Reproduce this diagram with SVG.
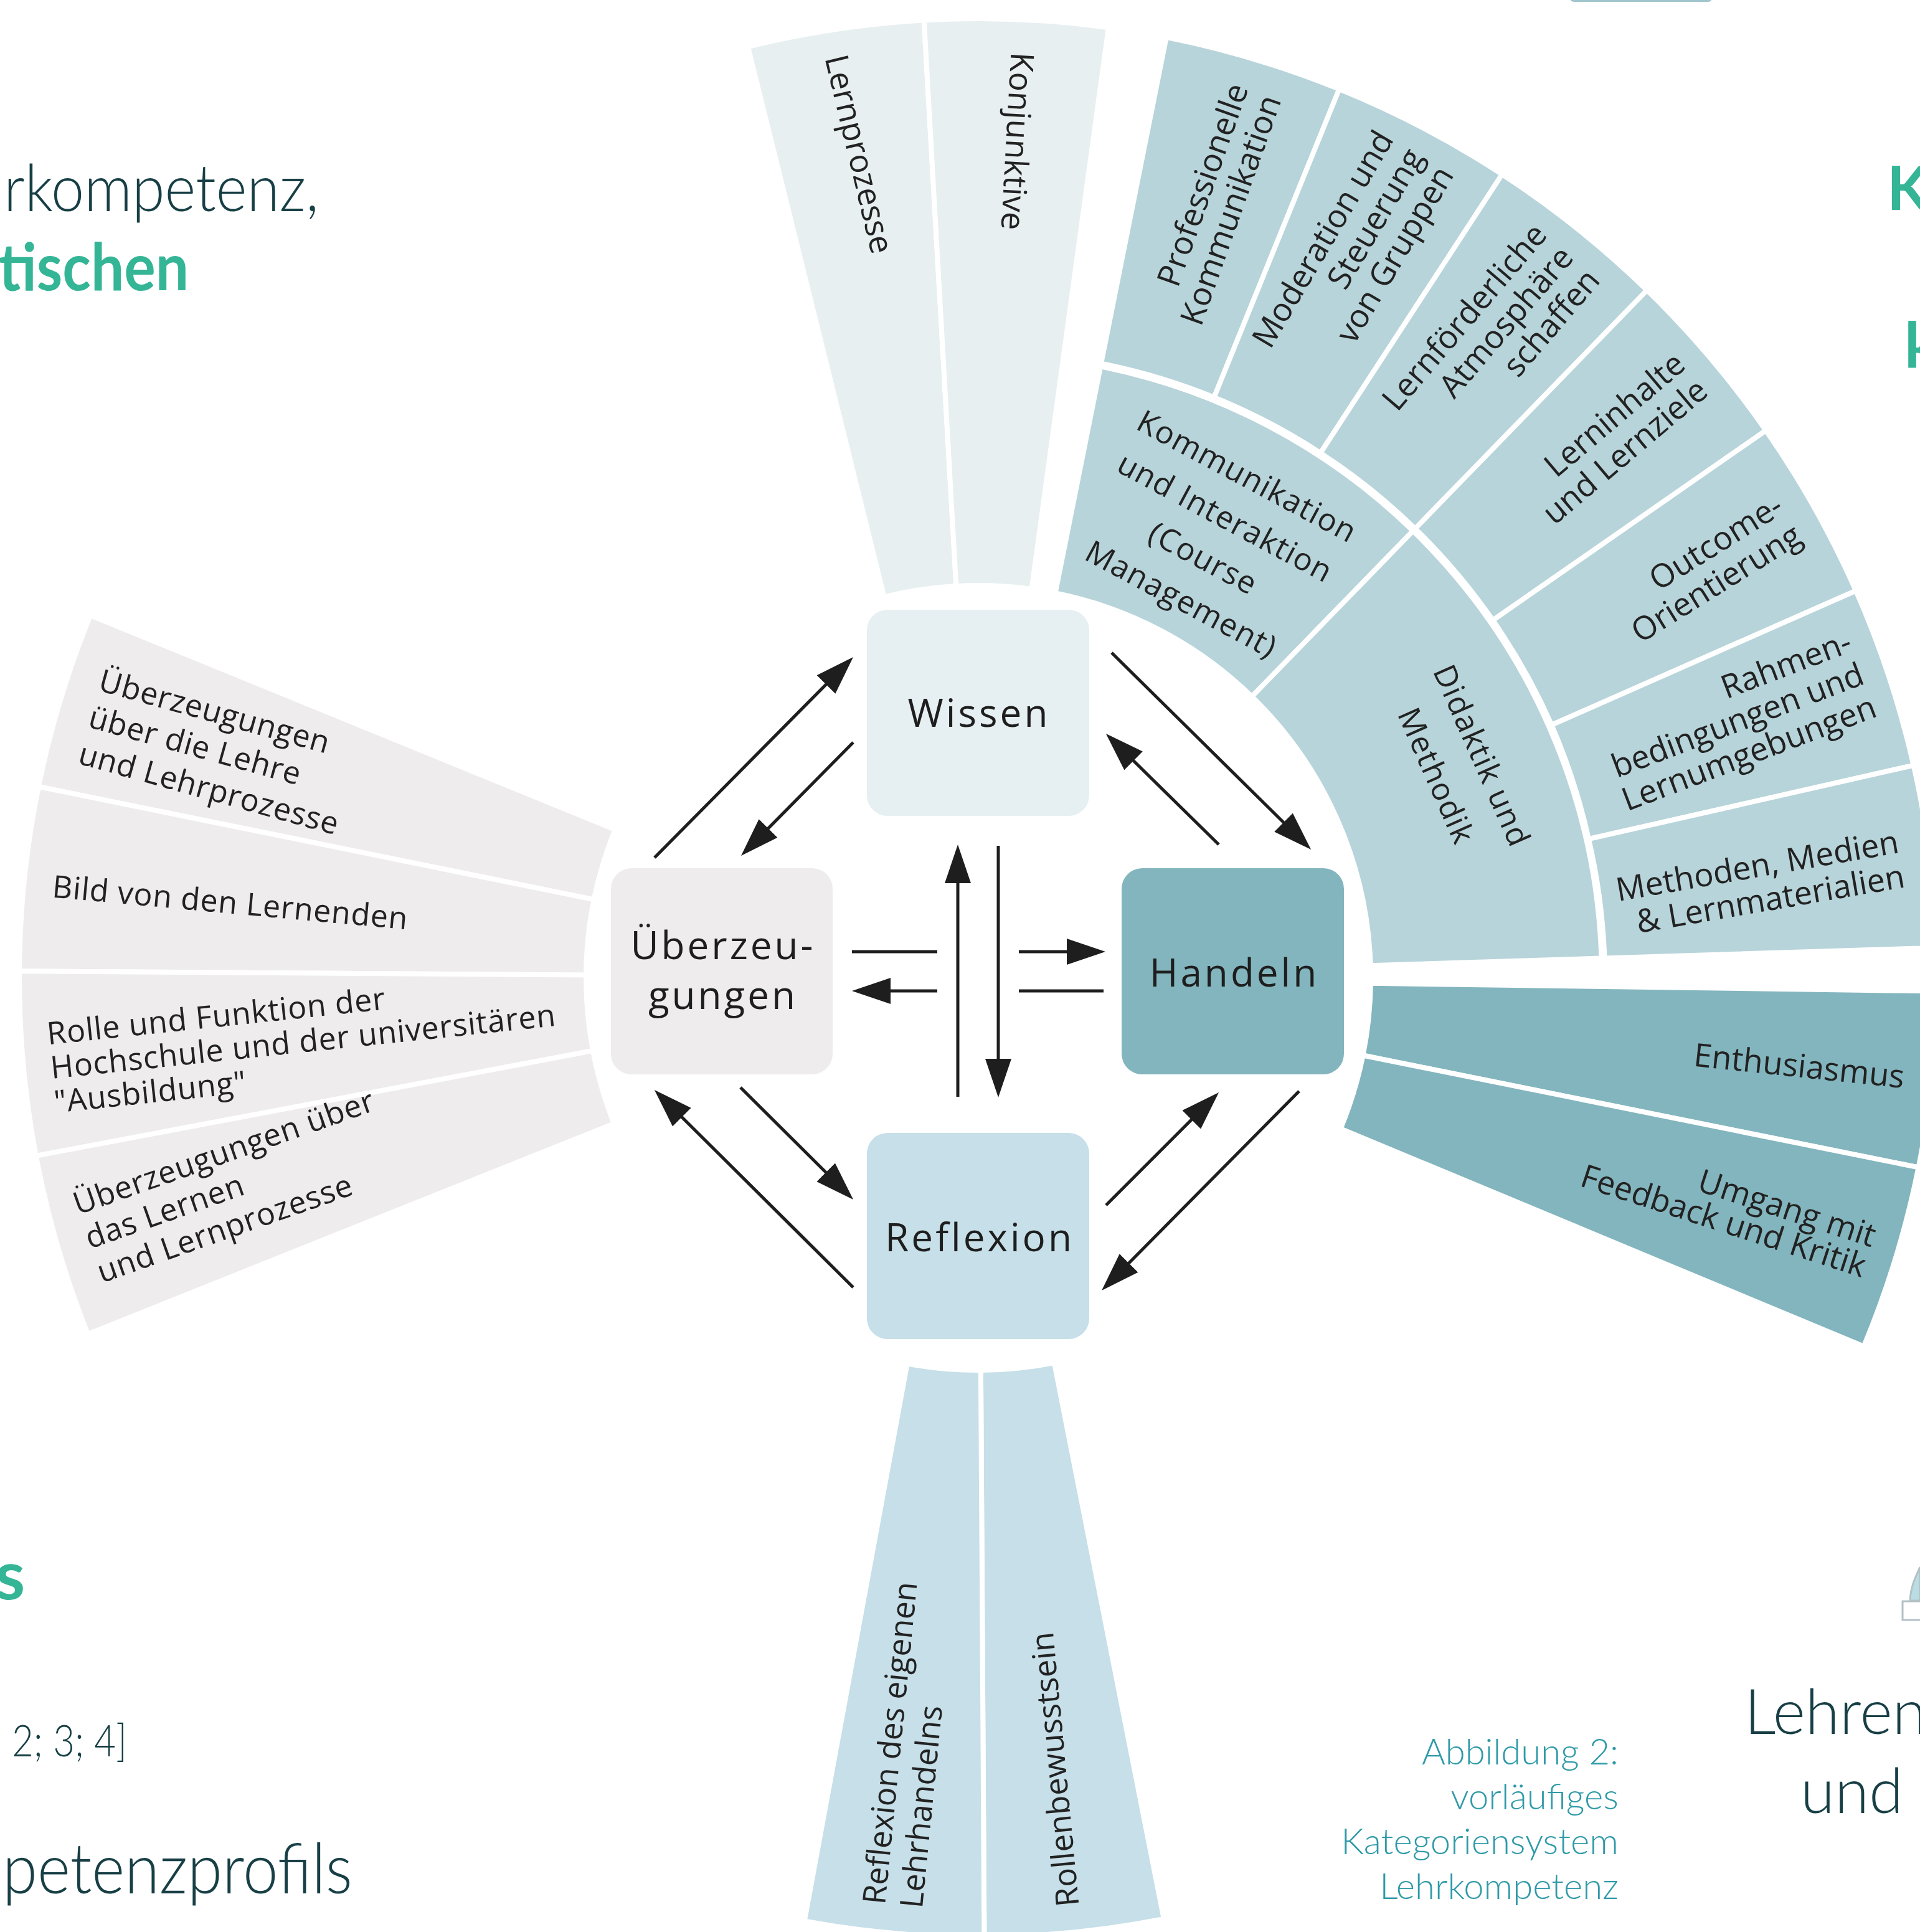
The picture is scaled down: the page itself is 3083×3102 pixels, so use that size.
<svg xmlns="http://www.w3.org/2000/svg" width="3083" height="3102" viewBox="0 0 3083 3102">
<defs>
<style>
.seg{stroke:#ffffff;stroke-width:8;stroke-linejoin:miter}
.cw{fill:#e7eff1}.cu{fill:#eeeced}.ch1{fill:#b7d4da}.ch2{fill:#83b5be}.cr{fill:#c6dfe8}
.lbl{font-family:"Open Sans","Noto Sans","DejaVu Sans",sans-serif;font-size:52px;fill:#222222}
.lft{font-size:50px;letter-spacing:0.8px}
.inn{font-size:50px;letter-spacing:1.5px}
.bl{font-size:51px}
.box{font-family:"Open Sans","Noto Sans","DejaVu Sans",sans-serif;font-size:62px;letter-spacing:4px;fill:#1e1e1e;text-anchor:middle}
.bg{font-family:Lato,"Open Sans",sans-serif;font-weight:300;fill:#173f45}
.bgb{font-family:Lato,"Open Sans",sans-serif;font-weight:700;fill:#34b596}
.cap{font-family:Lato,"Open Sans",sans-serif;font-weight:300;fill:#2f9aa8;font-size:58px;text-anchor:end}
.arr{stroke:#1e1e1e;stroke-width:5;fill:none}
.arrh{stroke:#1e1e1e;stroke-width:5;fill:none;marker-end:url(#ah)}
</style>
<marker id="ah" markerUnits="userSpaceOnUse" markerWidth="62" markerHeight="42" refX="52" refY="21" orient="auto">
<path d="M0,0 L62,21 L0,42 Z" fill="#1e1e1e"/>
</marker>
</defs>
<rect width="3083" height="3102" fill="#ffffff"/>

<!-- background page fragments -->
<g id="background">
<text class="bg" x="6" y="339" font-size="105" textLength="506" lengthAdjust="spacingAndGlyphs">rkompetenz,</text>
<text class="bgb" x="-2" y="466" font-size="105" textLength="305" lengthAdjust="spacingAndGlyphs">tischen</text>
<text class="bgb" x="3030" y="337" font-size="98">K</text>
<text class="bgb" x="3058" y="590" font-size="102">k</text>
<rect x="2521" y="-30" width="228" height="33" rx="6" fill="#9fc6cd"/>
<text class="bgb" x="-8" y="2568" font-size="110">s</text>
<text class="bg" x="19" y="2820" font-size="70" textLength="185" lengthAdjust="spacingAndGlyphs">2; 3; 4]</text>
<text class="bg" x="4" y="3040" font-size="112" textLength="562" lengthAdjust="spacingAndGlyphs">petenzprofils</text>
<text class="bg" x="2801" y="2784" font-size="100">Lehren</text>
<text class="bg" x="2891" y="2911" font-size="100">und</text>
<path d="M3083,2516 C3078,2528 3068,2545 3067,2570 L3083,2570 Z" fill="#b9dde3" stroke="#b3c1c5" stroke-width="3"/>
<rect x="3055" y="2571" width="40" height="30" fill="#ffffff" stroke="#b3c1c5" stroke-width="3"/>
<text class="cap" x="2599" y="2833">Abbildung 2:</text>
<text class="cap" x="2599" y="2905">vorläufiges</text>
<text class="cap" x="2599" y="2977">Kategoriensystem</text>
<text class="cap" x="2599" y="3049">Lehrkompetenz</text>
</g>

<!-- Wissen sectors -->
<g id="wissen-lernprozesse">
<path class="seg cw" d="M1201.0,75.1 A1540,1540 0 0 1 1483.7,32.5 L1535.3,941.0 A630,630 0 0 0 1419.7,958.4 Z"/>
<text class="lbl" transform="translate(1362,251.6) rotate(76.6)" text-anchor="middle">Lernprozesse</text>
</g>
<g id="wissen-konjunktive">
<path class="seg cw" d="M1483.7,32.5 A1540,1540 0 0 1 1780.0,44.2 L1656.5,945.8 A630,630 0 0 0 1535.3,941.0 Z"/>
<text class="lbl" transform="translate(1615.6,225.7) rotate(93.2)" text-anchor="middle">Konjunktive</text>
</g>

<!-- Handeln outer ring -->
<g id="h-professionelle">
<path class="seg ch1" d="M1872.8,59.9 A1540,1540 0 0 1 2150.4,143.1 L1949.5,637.9 A1006,1006 0 0 0 1768.1,583.5 Z"/>
<text class="lbl" transform="translate(2005,142) rotate(-70.5)" text-anchor="end"><tspan x="0" dy="0">Professionelle</tspan><tspan x="0" dy="56">Kommunikation</tspan></text>
</g>
<g id="h-moderation">
<path class="seg ch1" d="M2150.4,143.1 A1540,1540 0 0 1 2412.0,279.9 L2120.4,727.3 A1006,1006 0 0 0 1949.5,637.9 Z"/>
<text class="lbl" transform="translate(2239.2,223.6) rotate(-59.5)" text-anchor="end"><tspan x="0" dy="0">Moderation und</tspan><tspan x="0" dy="56">Steuerung</tspan><tspan x="0" dy="56">von Gruppen</tspan></text>
</g>
<g id="h-atmosphaere">
<path class="seg ch1" d="M2412.0,279.9 A1540,1540 0 0 1 2644.6,466.0 L2272.4,848.8 A1006,1006 0 0 0 2120.4,727.3 Z"/>
<text class="lbl" transform="translate(2486.4,378.4) rotate(-49.5)" text-anchor="end"><tspan x="0" dy="0">Lernförderliche</tspan><tspan x="0" dy="56">Atmosphäre</tspan><tspan x="0" dy="56">schaffen</tspan></text>
</g>
<g id="h-lerninhalte">
<path class="seg ch1" d="M2644.6,466.0 A1540,1540 0 0 1 2835.6,691.1 L2397.1,995.9 A1006,1006 0 0 0 2272.4,848.8 Z"/>
<text class="lbl" transform="translate(2709.4,589.9) rotate(-40.3)" text-anchor="end"><tspan x="0" dy="0">Lerninhalte</tspan><tspan x="0" dy="56">und Lernziele</tspan></text>
</g>
<g id="h-outcome">
<path class="seg ch1" d="M2835.6,691.1 A1540,1540 0 0 1 2980.0,948.5 L2491.5,1164.0 A1006,1006 0 0 0 2397.1,995.9 Z"/>
<text class="lbl" transform="translate(2867,822) rotate(-32)" text-anchor="end"><tspan x="0" dy="0">Outcome-</tspan><tspan x="0" dy="56">Orientierung</tspan></text>
</g>
<g id="h-rahmen">
<path class="seg ch1" d="M2980.0,948.5 A1540,1540 0 0 1 3072.7,1228.8 L2551.0,1347.1 A1006,1006 0 0 0 2491.5,1164.0 Z"/>
<text class="lbl" transform="translate(2976.7,1044.8) rotate(-20.8)" text-anchor="end"><tspan x="0" dy="0">Rahmen-</tspan><tspan x="0" dy="56">bedingungen und</tspan><tspan x="0" dy="56">Lernumgebungen</tspan></text>
</g>
<g id="h-methoden">
<path class="seg ch1" d="M3072.7,1228.8 A1540,1540 0 0 1 3110.2,1521.6 L2576.5,1538.4 A1006,1006 0 0 0 2551.0,1347.1 Z"/>
<text class="lbl" transform="translate(3051.2,1368.8) rotate(-9.8)" text-anchor="end"><tspan x="0" dy="0">Methoden, Medien</tspan><tspan x="0" dy="56">&amp; Lernmaterialien</tspan></text>
</g>

<!-- Handeln inner ring -->
<g id="h-kommunikation">
<path class="seg ch1" d="M1767.2,588.4 A1001,1001 0 0 1 2268.9,852.4 L2010.2,1118.4 A630,630 0 0 0 1694.5,952.2 Z"/>
<text class="lbl inn" transform="translate(1994.4,780.4) rotate(28.2)" text-anchor="middle"><tspan x="0" dy="0">Kommunikation</tspan><tspan x="0" dy="74.5">und Interaktion</tspan><tspan x="0" dy="74.5">(Course</tspan><tspan x="0" dy="74.5">Management)</tspan></text>
</g>
<g id="h-didaktik">
<path class="seg ch1" d="M2268.9,852.4 A1001,1001 0 0 1 2571.5,1538.6 L2200.7,1550.2 A630,630 0 0 0 2010.2,1118.4 Z"/>
<text class="lbl inn" transform="translate(2363.4,1220.5) rotate(66.2)" text-anchor="middle"><tspan x="0" dy="0">Didaktik und</tspan><tspan x="0" dy="80">Methodik</tspan></text>
</g>

<!-- Handeln lower sectors -->
<g id="h-enthusiasmus">
<path class="seg ch2" d="M3110.9,1591.5 A1540,1540 0 0 1 3080.6,1874.4 L2188.6,1694.5 A630,630 0 0 0 2200.9,1578.8 Z"/>
<text class="lbl" transform="translate(3056,1747) rotate(6)" text-anchor="end">Enthusiasmus</text>
</g>
<g id="h-feedback">
<path class="seg ch2" d="M3080.6,1874.4 A1540,1540 0 0 1 2992.7,2161.8 L2152.6,1812.1 A630,630 0 0 0 2188.6,1694.5 Z"/>
<text class="lbl" transform="translate(3005,2002.6) rotate(18)" text-anchor="end"><tspan x="0" dy="0">Umgang mit</tspan><tspan x="0" dy="51">Feedback und Kritik</tspan></text>
</g>

<!-- Reflexion sectors -->
<g id="r-rollen">
<path class="seg cr" d="M1868.8,3080.9 A1540,1540 0 0 1 1580.4,3110.0 L1574.9,2200.0 A630,630 0 0 0 1692.8,2188.1 Z"/>
<text class="lbl bl" transform="translate(1732.4,3059.6) rotate(-95.4)" text-anchor="start">Rollenbewusstsein</text>
</g>
<g id="r-reflexion">
<path class="seg cr" d="M1580.4,3110.0 A1540,1540 0 0 1 1291.7,3084.5 L1456.7,2189.6 A630,630 0 0 0 1574.9,2200.0 Z"/>
<text class="lbl bl" transform="translate(1421,3059) rotate(-84.3)" text-anchor="start"><tspan x="0" dy="0">Reflexion des eigenen</tspan><tspan x="0" dy="60">Lehrhandelns</tspan></text>
</g>

<!-- Ueberzeugungen sectors -->
<g id="u-lehre">
<path class="seg cu" d="M61.9,1263.0 A1540,1540 0 0 1 145.2,988.1 L987.7,1332.0 A630,630 0 0 0 953.6,1444.4 Z"/>
<text class="lbl lft" transform="translate(155.8,1107.9) rotate(15.5)"><tspan x="0" dy="0">Überzeugungen</tspan><tspan x="0" dy="61">über die Lehre</tspan><tspan x="0" dy="61">und Lehrprozesse</tspan></text>
</g>
<g id="u-bild">
<path class="seg cu" d="M31.0,1559.3 A1540,1540 0 0 1 61.9,1263.0 L953.6,1444.4 A630,630 0 0 0 941.0,1565.6 Z"/>
<text class="lbl lft" transform="translate(82.8,1440.4) rotate(5.2)">Bild von den Lernenden</text>
</g>
<g id="u-rolle">
<path class="seg cu" d="M57.8,1855.9 A1540,1540 0 0 1 31.0,1559.3 L941.0,1565.6 A630,630 0 0 0 952.0,1687.0 Z"/>
<text class="lbl lft" transform="translate(77.2,1677.3) rotate(-6)"><tspan x="0" dy="0">Rolle und Funktion der</tspan><tspan x="0" dy="55">Hochschule und der universitären</tspan><tspan x="0" dy="55">"Ausbildung"</tspan></text>
</g>
<g id="u-lernen">
<path class="seg cu" d="M141.1,2141.9 A1540,1540 0 0 1 57.8,1855.9 L952.0,1687.0 A630,630 0 0 0 986.0,1804.0 Z"/>
<text class="lbl lft" transform="translate(124.9,1950.8) rotate(-19.4)"><tspan x="0" dy="0">Überzeugungen über</tspan><tspan x="0" dy="58">das Lernen</tspan><tspan x="0" dy="58">und Lernprozesse</tspan></text>
</g>

<!-- central nodes -->
<g id="node-wissen">
<rect x="1392" y="979" width="357" height="331" rx="33" fill="#e6eff1"/>
<text class="box" x="1572" y="1167">Wissen</text>
</g>
<g id="node-ueberzeugungen">
<rect x="981" y="1394" width="356" height="331" rx="33" fill="#eeeced"/>
<text class="box" x="1161" y="1540">Überzeu-</text>
<text class="box" x="1161" y="1620">gungen</text>
</g>
<g id="node-handeln">
<rect x="1801" y="1394" width="357" height="331" rx="33" fill="#83b5be"/>
<text class="box" x="1982" y="1584">Handeln</text>
</g>
<g id="node-reflexion">
<rect x="1392" y="1819" width="357" height="331" rx="33" fill="#c6dfe8"/>
<text class="box" x="1573" y="2009">Reflexion</text>
</g>

<!-- connectors -->
<g id="connectors">
<line class="arrh" x1="1051" y1="1377" x2="1363" y2="1062"/>
<line class="arrh" x1="1370" y1="1192" x2="1197" y2="1367"/>
<line class="arrh" x1="1785" y1="1048" x2="2098" y2="1357"/>
<line class="arrh" x1="1957" y1="1356" x2="1783" y2="1185"/>
<line class="arrh" x1="1189" y1="1746" x2="1363" y2="1919"/>
<line class="arrh" x1="1370" y1="2067" x2="1058" y2="1757"/>
<line class="arrh" x1="1776" y1="1935" x2="1950" y2="1761"/>
<line class="arrh" x1="2086" y1="1752" x2="1776" y2="2065"/>
<line class="arrh" x1="1538" y1="1761" x2="1538" y2="1366"/>
<line class="arrh" x1="1603" y1="1358" x2="1603" y2="1752"/>
<line class="arr" x1="1368" y1="1528" x2="1505" y2="1528"/>
<line class="arrh" x1="1505" y1="1591" x2="1378" y2="1591"/>
<line class="arrh" x1="1636" y1="1528" x2="1765" y2="1528"/>
<line class="arr" x1="1636" y1="1591" x2="1772" y2="1591"/>
</g>
</svg>
